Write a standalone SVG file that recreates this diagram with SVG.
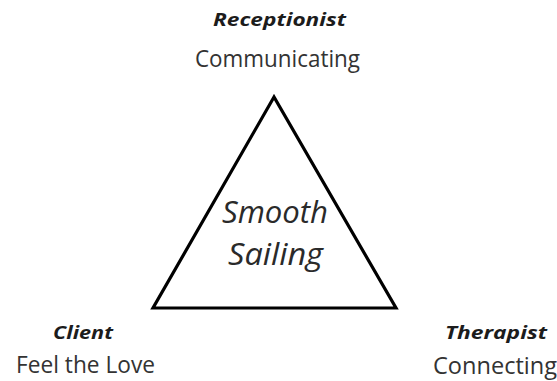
<svg xmlns="http://www.w3.org/2000/svg" width="557" height="381" viewBox="0 0 557 381">
  <style>
    text { font-family: "Open Sans", "Noto Sans", "Liberation Sans", sans-serif; text-anchor: middle; }
    .role { font-weight: bold; font-style: italic; font-size: 18px; fill: #1c1c1c; }
    .task { font-size: 23px; fill: #333333; }
    .core { font-style: italic; font-size: 31px; fill: #2a2a2a; }
    .tri { fill: #ffffff; stroke: #000000; stroke-width: 3.2; stroke-linejoin: miter; }
  </style>
  <rect width="557" height="381" fill="#ffffff"/>

  <!-- central triangle with its label -->
  <g id="smooth-sailing">
    <polygon class="tri" points="274,97 153,308 396,308"/>
    <text class="core" x="275" y="223" textLength="106" lengthAdjust="spacingAndGlyphs">Smooth</text>
    <text class="core" x="275.5" y="265" textLength="95" lengthAdjust="spacingAndGlyphs">Sailing</text>
  </g>

  <!-- corner roles -->
  <g id="receptionist">
    <text class="role" x="279.5" y="26" textLength="133" lengthAdjust="spacingAndGlyphs">Receptionist</text>
    <text class="task" x="277.5" y="67" textLength="165" lengthAdjust="spacingAndGlyphs">Communicating</text>
  </g>
  <g id="client">
    <text class="role" x="83" y="339" textLength="60" lengthAdjust="spacingAndGlyphs">Client</text>
    <text class="task" x="85.5" y="373" textLength="139" lengthAdjust="spacingAndGlyphs">Feel the Love</text>
  </g>
  <g id="therapist">
    <text class="role" x="496" y="339" textLength="102" lengthAdjust="spacingAndGlyphs">Therapist</text>
    <text class="task" x="495" y="374" textLength="124" lengthAdjust="spacingAndGlyphs">Connecting</text>
  </g>

  <!-- no connectors between the nodes -->
  <g id="connectors"/>
</svg>
